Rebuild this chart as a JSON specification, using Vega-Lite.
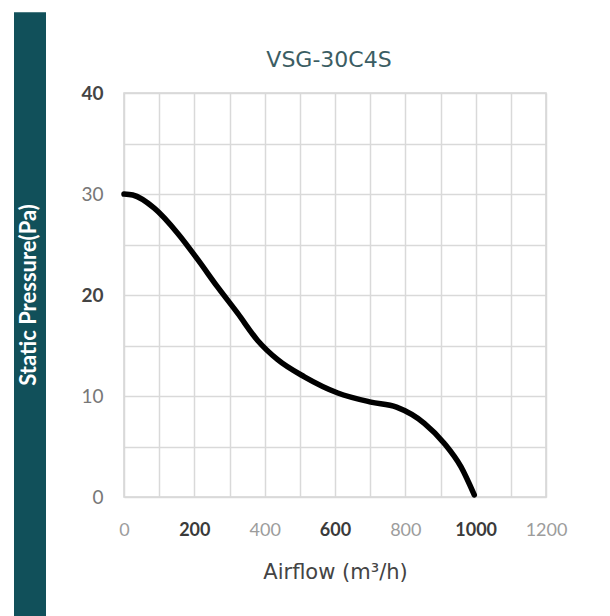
{
  "$schema": "https://vega.github.io/schema/vega-lite/v6.json",
  "padding": {"left": 14, "top": 12, "right": 0, "bottom": 0},
  "background": "white",
  "spacing": 34,
  "config": {"view": {"stroke": null}},
  "hconcat": [
    {
      "width": 32,
      "height": 404,
      "data": {"values": [{"label": "Static Pressure(Pa)"}]},
      "layer": [
        {
          "mark": {"type": "rect", "color": "#11505a", "clip": false},
          "encoding": {
            "y": {"datum": -12, "type": "quantitative", "scale": {"domain": [0, 40], "nice": false, "zero": false}, "axis": null},
            "y2": {"datum": 48}
          }
        },
        {
          "mark": {"type": "text", "angle": 270, "color": "white", "font": "Lato", "fontWeight": "bold", "fontSize": 22, "baseline": "middle", "align": "center", "dy": -1},
          "encoding": {"text": {"field": "label"}}
        }
      ]
    },
    {
      "width": 422,
      "height": 404,
      "view": {"stroke": "#d4d4d4", "strokeWidth": 1.5},
      "title": {"text": "VSG-30C4S", "fontSize": 22, "font": "DejaVu Sans", "fontWeight": "normal", "color": "#3b5d63", "offset": 12, "dx": -6},
      "data": {"values": [
        {"airflow": 0, "pressure": 30.0},
        {"airflow": 25, "pressure": 29.9},
        {"airflow": 86, "pressure": 28.6},
        {"airflow": 153, "pressure": 26.1},
        {"airflow": 210, "pressure": 23.5},
        {"airflow": 266, "pressure": 20.8},
        {"airflow": 323, "pressure": 18.2},
        {"airflow": 380, "pressure": 15.5},
        {"airflow": 437, "pressure": 13.6},
        {"airflow": 513, "pressure": 11.9},
        {"airflow": 608, "pressure": 10.3},
        {"airflow": 702, "pressure": 9.4},
        {"airflow": 775, "pressure": 8.9},
        {"airflow": 854, "pressure": 7.3},
        {"airflow": 911, "pressure": 5.3},
        {"airflow": 958, "pressure": 3.0},
        {"airflow": 996, "pressure": 0.2}
      ]},
      "mark": {"type": "line", "color": "black", "strokeWidth": 5.5, "interpolate": "monotone", "strokeCap": "round"},
      "encoding": {
        "x": {
          "field": "airflow", "type": "quantitative",
          "scale": {"domain": [0, 1200], "nice": false},
          "axis": {
            "values": [0, 100, 200, 300, 400, 500, 600, 700, 800, 900, 1000, 1100, 1200],
            "format": "d",
            "labelExpr": "datum.value % 200 == 0 ? datum.label : ''",
            "title": "Airflow (m³/h)",
            "titleFont": "DejaVu Sans", "titleFontSize": 21, "titleFontWeight": "normal", "titleColor": "#444444", "titlePadding": 22,
            "labelFont": "Lato", "labelFontSize": 18, "labelPadding": 24,
            "labelFontWeight": {"condition": {"test": "datum.value % 400 == 200", "value": "bold"}, "value": "normal"},
            "labelColor": {"condition": {"test": "datum.value % 400 == 200", "value": "#3a3a3a"}, "value": "#9c9c9c"},
            "ticks": false, "domain": false,
            "grid": true, "gridColor": "#d9d9d9", "gridWidth": 1.5,
            "labelFlush": false
          }
        },
        "y": {
          "field": "pressure", "type": "quantitative",
          "scale": {"domain": [0, 40], "nice": false},
          "axis": {
            "values": [0, 5, 10, 15, 20, 25, 30, 35, 40],
            "labelExpr": "datum.value % 10 == 0 ? datum.label : ''",
            "title": null,
            "labelFont": "Lato", "labelFontSize": 19, "labelPadding": 21,
            "labelFontWeight": {"condition": {"test": "datum.value == 40 || datum.value == 20", "value": "bold"}, "value": "normal"},
            "labelColor": {"condition": {"test": "datum.value == 40 || datum.value == 20", "value": "#444444"}, "value": "#777777"},
            "ticks": false, "domain": false,
            "grid": true, "gridColor": "#d9d9d9", "gridWidth": 1.5,
            "labelFlush": false
          }
        }
      }
    }
  ]
}
